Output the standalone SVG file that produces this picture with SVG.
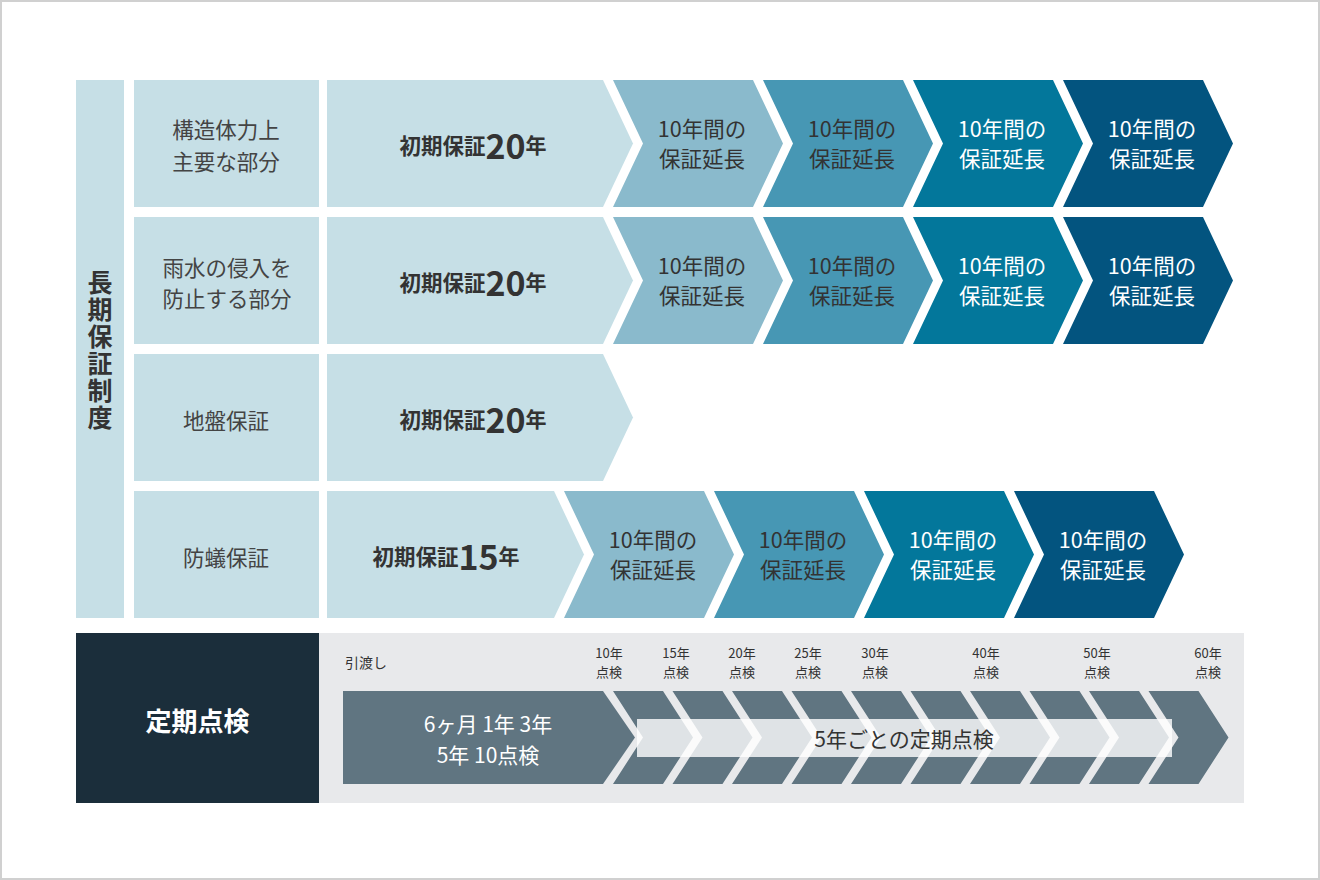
<svg xmlns="http://www.w3.org/2000/svg" xmlns:xlink="http://www.w3.org/1999/xlink" width="1320" height="880" viewBox="0 0 1320 880">
<style>
text{font-family:"Noto Sans CJK JP","Noto Sans",sans-serif;}
.cat{font-size:21.5px;fill:#444;text-anchor:middle;dominant-baseline:central;}
.ini{font-size:21.5px;font-weight:bold;fill:#333;text-anchor:middle;dominant-baseline:central;}
.big{font-size:34px;}
.nen{font-size:21px;}
.ext{font-size:21.5px;text-anchor:middle;dominant-baseline:central;}
.dk{fill:#333;}
.wh{fill:#fff;}
.lbl{font-size:13px;fill:#333;text-anchor:middle;dominant-baseline:central;}
.lt{fill:#c6dfe6;}
.c1{fill:#8abacc;}
.c2{fill:#4797b4;}
.c3{fill:#03779b;}
.c4{fill:#03547f;}
.tl{fill:#607581;}
</style>
<defs>
<polygon id="chev" points="0,0 140,0 170,63.5 140,127 0,127 30,63.5"/>
<polygon id="tchev" points="0,0 50,0 80,46.5 50,93 0,93 30,46.5"/>
</defs>
<rect x="1" y="1" width="1318" height="878" fill="#fff" stroke="#d0d0d0" stroke-width="2"/>

<g id="system-label">
<rect x="76" y="80" width="48" height="538" class="lt"/>
<text x="100" y="350.5" font-size="25" font-weight="bold" fill="#333" text-anchor="middle" writing-mode="vertical-rl" letter-spacing="2">長期保証制度</text>
</g>

<g id="row1">
<rect x="134" y="80" width="185" height="127" class="lt"/>
<text class="cat"><tspan x="226" y="128">構造体力上</tspan><tspan x="226" y="160">主要な部分</tspan></text>
<polygon points="327,80 603,80 633,143.5 603,207 327,207" class="lt"/>
<text class="ini" x="473" y="144">初期保証<tspan class="big">20</tspan><tspan class="nen">年</tspan></text>
<use xlink:href="#chev" x="613" y="80" class="c1"/>
<use xlink:href="#chev" x="763" y="80" class="c2"/>
<use xlink:href="#chev" x="913" y="80" class="c3"/>
<use xlink:href="#chev" x="1063" y="80" class="c4"/>
<text class="ext dk"><tspan x="702" y="127">10年間の</tspan><tspan x="702" y="157">保証延長</tspan></text>
<text class="ext dk"><tspan x="852" y="127">10年間の</tspan><tspan x="852" y="157">保証延長</tspan></text>
<text class="ext wh"><tspan x="1002" y="127">10年間の</tspan><tspan x="1002" y="157">保証延長</tspan></text>
<text class="ext wh"><tspan x="1152" y="127">10年間の</tspan><tspan x="1152" y="157">保証延長</tspan></text>
</g>

<g id="row2">
<rect x="134" y="217" width="185" height="127" class="lt"/>
<text class="cat"><tspan x="227" y="266">雨水の侵入を</tspan><tspan x="227" y="297">防止する部分</tspan></text>
<polygon points="327,217 603,217 633,280.5 603,344 327,344" class="lt"/>
<text class="ini" x="473" y="281">初期保証<tspan class="big">20</tspan><tspan class="nen">年</tspan></text>
<use xlink:href="#chev" x="613" y="217" class="c1"/>
<use xlink:href="#chev" x="763" y="217" class="c2"/>
<use xlink:href="#chev" x="913" y="217" class="c3"/>
<use xlink:href="#chev" x="1063" y="217" class="c4"/>
<text class="ext dk"><tspan x="702" y="264">10年間の</tspan><tspan x="702" y="294">保証延長</tspan></text>
<text class="ext dk"><tspan x="852" y="264">10年間の</tspan><tspan x="852" y="294">保証延長</tspan></text>
<text class="ext wh"><tspan x="1002" y="264">10年間の</tspan><tspan x="1002" y="294">保証延長</tspan></text>
<text class="ext wh"><tspan x="1152" y="264">10年間の</tspan><tspan x="1152" y="294">保証延長</tspan></text>
</g>

<g id="row3">
<rect x="134" y="354" width="185" height="127" class="lt"/>
<text class="cat" x="226" y="419">地盤保証</text>
<polygon points="327,354 603,354 633,417.5 603,481 327,481" class="lt"/>
<text class="ini" x="473" y="418">初期保証<tspan class="big">20</tspan><tspan class="nen">年</tspan></text>
</g>

<g id="row4">
<rect x="134" y="491" width="185" height="127" class="lt"/>
<text class="cat" x="226" y="556">防蟻保証</text>
<polygon points="327,491 554,491 584,554.5 554,618 327,618" class="lt"/>
<text class="ini" x="446" y="555">初期保証<tspan class="big">15</tspan><tspan class="nen">年</tspan></text>
<use xlink:href="#chev" x="564" y="491" class="c1"/>
<use xlink:href="#chev" x="714" y="491" class="c2"/>
<use xlink:href="#chev" x="864" y="491" class="c3"/>
<use xlink:href="#chev" x="1014" y="491" class="c4"/>
<text class="ext dk"><tspan x="653" y="538">10年間の</tspan><tspan x="653" y="568">保証延長</tspan></text>
<text class="ext dk"><tspan x="803" y="538">10年間の</tspan><tspan x="803" y="568">保証延長</tspan></text>
<text class="ext wh"><tspan x="953" y="538">10年間の</tspan><tspan x="953" y="568">保証延長</tspan></text>
<text class="ext wh"><tspan x="1103" y="538">10年間の</tspan><tspan x="1103" y="568">保証延長</tspan></text>
</g>

<g id="inspection">
<rect x="76" y="633" width="243" height="170" fill="#1b2e3b"/>
<text x="197.5" y="719" font-size="26" font-weight="bold" fill="#fff" text-anchor="middle" dominant-baseline="central">定期点検</text>
<rect x="319" y="633" width="925" height="170" fill="#e8e9eb"/>
<text x="345" y="662" font-size="14" fill="#333" dominant-baseline="central">引渡し</text>
<text class="lbl"><tspan x="609" y="652">10年</tspan><tspan x="609" y="670.5">点検</tspan></text>
<text class="lbl"><tspan x="676" y="652">15年</tspan><tspan x="676" y="670.5">点検</tspan></text>
<text class="lbl"><tspan x="742" y="652">20年</tspan><tspan x="742" y="670.5">点検</tspan></text>
<text class="lbl"><tspan x="808" y="652">25年</tspan><tspan x="808" y="670.5">点検</tspan></text>
<text class="lbl"><tspan x="875" y="652">30年</tspan><tspan x="875" y="670.5">点検</tspan></text>
<text class="lbl"><tspan x="986" y="652">40年</tspan><tspan x="986" y="670.5">点検</tspan></text>
<text class="lbl"><tspan x="1097" y="652">50年</tspan><tspan x="1097" y="670.5">点検</tspan></text>
<text class="lbl"><tspan x="1208" y="652">60年</tspan><tspan x="1208" y="670.5">点検</tspan></text>
<polygon points="343,691 603,691 635,737.5 603,784 343,784" class="tl"/>
<use xlink:href="#tchev" x="613" y="691" class="tl"/>
<use xlink:href="#tchev" x="672.5" y="691" class="tl"/>
<use xlink:href="#tchev" x="732" y="691" class="tl"/>
<use xlink:href="#tchev" x="791.5" y="691" class="tl"/>
<use xlink:href="#tchev" x="851" y="691" class="tl"/>
<use xlink:href="#tchev" x="910.5" y="691" class="tl"/>
<use xlink:href="#tchev" x="970" y="691" class="tl"/>
<use xlink:href="#tchev" x="1029.5" y="691" class="tl"/>
<use xlink:href="#tchev" x="1089" y="691" class="tl"/>
<use xlink:href="#tchev" x="1148.5" y="691" class="tl"/>
<rect x="637" y="719" width="535" height="38" fill="#fff" fill-opacity="0.8"/>
<text x="904" y="738" font-size="21" fill="#333" text-anchor="middle" dominant-baseline="central">5年ごとの定期点検</text>
<text font-size="21" fill="#fff" text-anchor="middle" dominant-baseline="central"><tspan x="488" y="723">6ヶ月 1年 3年</tspan><tspan x="488" y="754">5年 10点検</tspan></text>
</g>
</svg>
